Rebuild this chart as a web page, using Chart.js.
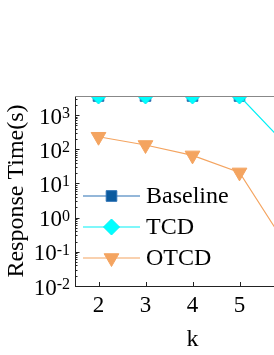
<!DOCTYPE html>
<html>
<head>
<meta charset="utf-8">
<script src="https://cdn.jsdelivr.net/npm/chart.js@4.4.1/dist/chart.umd.min.js"></script>
<style>
html, body { margin: 0; padding: 0; background: #fff; overflow: hidden; }
#wrap { width: 330px; height: 355px; }
</style>
</head>
<body>
<div id="wrap"><canvas id="respChart" width="330" height="355"></canvas></div>
<script>
"use strict"

// DATA -----------------------
const kValues = [2, 3, 4, 5, 6]
const baselineTimes = [3600, 3600, 3600, 3600, 3600]
const tcdTimes = [3600, 3600, 3600, 3600, 130]
const otcdTimes = [232, 133, 66, 21, 0.15]
const seriesNames = ["Baseline", "TCD", "OTCD"]
const xTicks = [2, 3, 4, 5, 6]
const yExponents = [-2, -1, 0, 1, 2, 3]

const FONT = "'Liberation Serif', 'Times New Roman', serif"

const styles = [
	{ line: "#2a70b4", fill: "#0b5a9e", pointStyle: "rect", radius: 7.5, rotation: 0, order: 3 },
	{ line: "#00f0f5", fill: "#00ffff", pointStyle: "rectRot", radius: 8, rotation: 0, order: 2 },
	{ line: "#f4a460", fill: "#f4a460", pointStyle: "triangle", radius: 8.5, rotation: 180, order: 1 },
]

function toPoints(values) {
	return kValues.map((k, i) => ({ x: k, y: values[i] }))
}

function makeDataset(name, values, s) {
	return {
		label: name,
		data: toPoints(values),
		order: s.order,
		borderColor: s.line,
		borderWidth: 1.2,
		backgroundColor: s.fill,
		pointBackgroundColor: s.fill,
		pointBorderColor: s.line,
		pointBorderWidth: 1,
		pointStyle: s.pointStyle,
		pointRadius: s.radius,
		pointRotation: s.rotation,
		tension: 0,
		clip: 0,
	}
}

// PLUGINS -----------------------
// frame, inward ticks and 10^n labels
const axisDecor = {
	id: "axisDecor",
	afterDraw(chart) {
		const ctx = chart.ctx
		const area = chart.chartArea
		const xs = chart.scales.x
		const ys = chart.scales.y
		ctx.save()
		ctx.strokeStyle = "#222"
		ctx.lineWidth = 1
		ctx.beginPath()
		ctx.moveTo(area.left + 0.5, area.top)
		ctx.lineTo(area.left + 0.5, area.bottom + 0.5)
		ctx.lineTo(area.right, area.bottom + 0.5)
		ctx.stroke()
		ctx.strokeStyle = "#888"
		ctx.beginPath()
		ctx.moveTo(area.left, area.top + 0.5)
		ctx.lineTo(area.right, area.top + 0.5)
		ctx.stroke()

		ctx.strokeStyle = "#222"
		ctx.beginPath()
		xTicks.forEach((t) => {
			const px = Math.round(xs.getPixelForValue(t)) + 0.5
			ctx.moveTo(px, area.bottom)
			ctx.lineTo(px, area.bottom - 4)
		})
		yExponents.forEach((e) => {
			for (let m = 1; m <= 9; m++) {
				const v = m * Math.pow(10, e)
				if (v > ys.max) break
				const py = Math.round(ys.getPixelForValue(v)) + 0.5
				ctx.moveTo(area.left, py)
				ctx.lineTo(area.left + (m == 1 ? 4.5 : 2.5), py)
			}
		})
		ctx.stroke()

		// y labels with superscript
		ctx.fillStyle = "#000"
		ctx.textBaseline = "alphabetic"
		yExponents.forEach((e) => {
			const py = ys.getPixelForValue(Math.pow(10, e))
			const right = area.left - 5
			const expText = e < 0 ? "-" + Math.abs(e) : String(e)
			ctx.font = "16px " + FONT
			ctx.textAlign = "right"
			ctx.fillText(expText, right, py + 3)
			const expW = ctx.measureText(expText).width
			ctx.font = "23px " + FONT
			ctx.fillText("10", right - expW, py + 8.5)
		})
		ctx.restore()
	},
}

// legend inside the plot
const innerLegend = {
	id: "innerLegend",
	afterDraw(chart) {
		const ctx = chart.ctx
		const area = chart.chartArea
		const rows = [196, 227, 258]
		ctx.save()
		chart.data.datasets.forEach((ds, i) => {
			const y = rows[i]
			const x0 = area.left + 8
			const x1 = area.left + 65
			const mx = (x0 + x1) / 2
			ctx.strokeStyle = ds.borderColor
			ctx.lineWidth = ds.borderWidth
			ctx.beginPath()
			ctx.moveTo(x0, y)
			ctx.lineTo(x1, y)
			ctx.stroke()
			ctx.fillStyle = ds.pointBackgroundColor
			ctx.strokeStyle = ds.pointBorderColor
			ctx.lineWidth = ds.pointBorderWidth
			Chart.helpers.drawPoint(ctx, {
				pointStyle: ds.pointStyle,
				rotation: ds.pointRotation,
				radius: ds.pointRadius,
				borderWidth: ds.pointBorderWidth,
			}, mx, y)
			ctx.fillStyle = "#000"
			ctx.font = "24px " + FONT
			ctx.textAlign = "left"
			ctx.textBaseline = "middle"
			ctx.fillText(ds.label, x1 + 6, y + 1)
		})
		ctx.restore()
	},
}

// CHART -----------------------
const respChart = new Chart(document.getElementById("respChart").getContext("2d"), {
	type: "line",
	data: {
		datasets: [
			makeDataset(seriesNames[0], baselineTimes, styles[0]),
			makeDataset(seriesNames[1], tcdTimes, styles[1]),
			makeDataset(seriesNames[2], otcdTimes, styles[2]),
		],
	},
	options: {
		responsive: false,
		animation: false,
		layout: { padding: { top: 96, right: 20, left: 0, bottom: 0 } },
		plugins: {
			legend: { display: false },
			tooltip: { enabled: false },
		},
		scales: {
			x: {
				type: "linear",
				min: 1.5,
				max: 6.5,
				afterBuildTicks: (scale) => {
					scale.ticks = xTicks.map((v) => ({ value: v }))
				},
				afterFit: (scale) => {
					scale.height = 69
				},
				grid: { display: false, drawTicks: false },
				border: { display: false },
				ticks: {
					color: "#000",
					font: { family: FONT, size: 23 },
					padding: 6,
					maxRotation: 0,
				},
				title: {
					display: true,
					text: "k",
					color: "#000",
					font: { family: FONT, size: 24 },
					padding: { top: 0, bottom: 1 },
				},
			},
			y: {
				type: "logarithmic",
				min: 0.01,
				max: 3600,
				afterFit: (scale) => {
					scale.width = 75
				},
				grid: { display: false, drawTicks: false },
				border: { display: false },
				ticks: { display: false },
				title: {
					display: true,
					text: "Response Time(s)",
					color: "#000",
					font: { family: FONT, size: 24 },
					padding: { top: 2, bottom: 0 },
				},
			},
		},
	},
	plugins: [axisDecor, innerLegend],
})
</script>
</body>
</html>
